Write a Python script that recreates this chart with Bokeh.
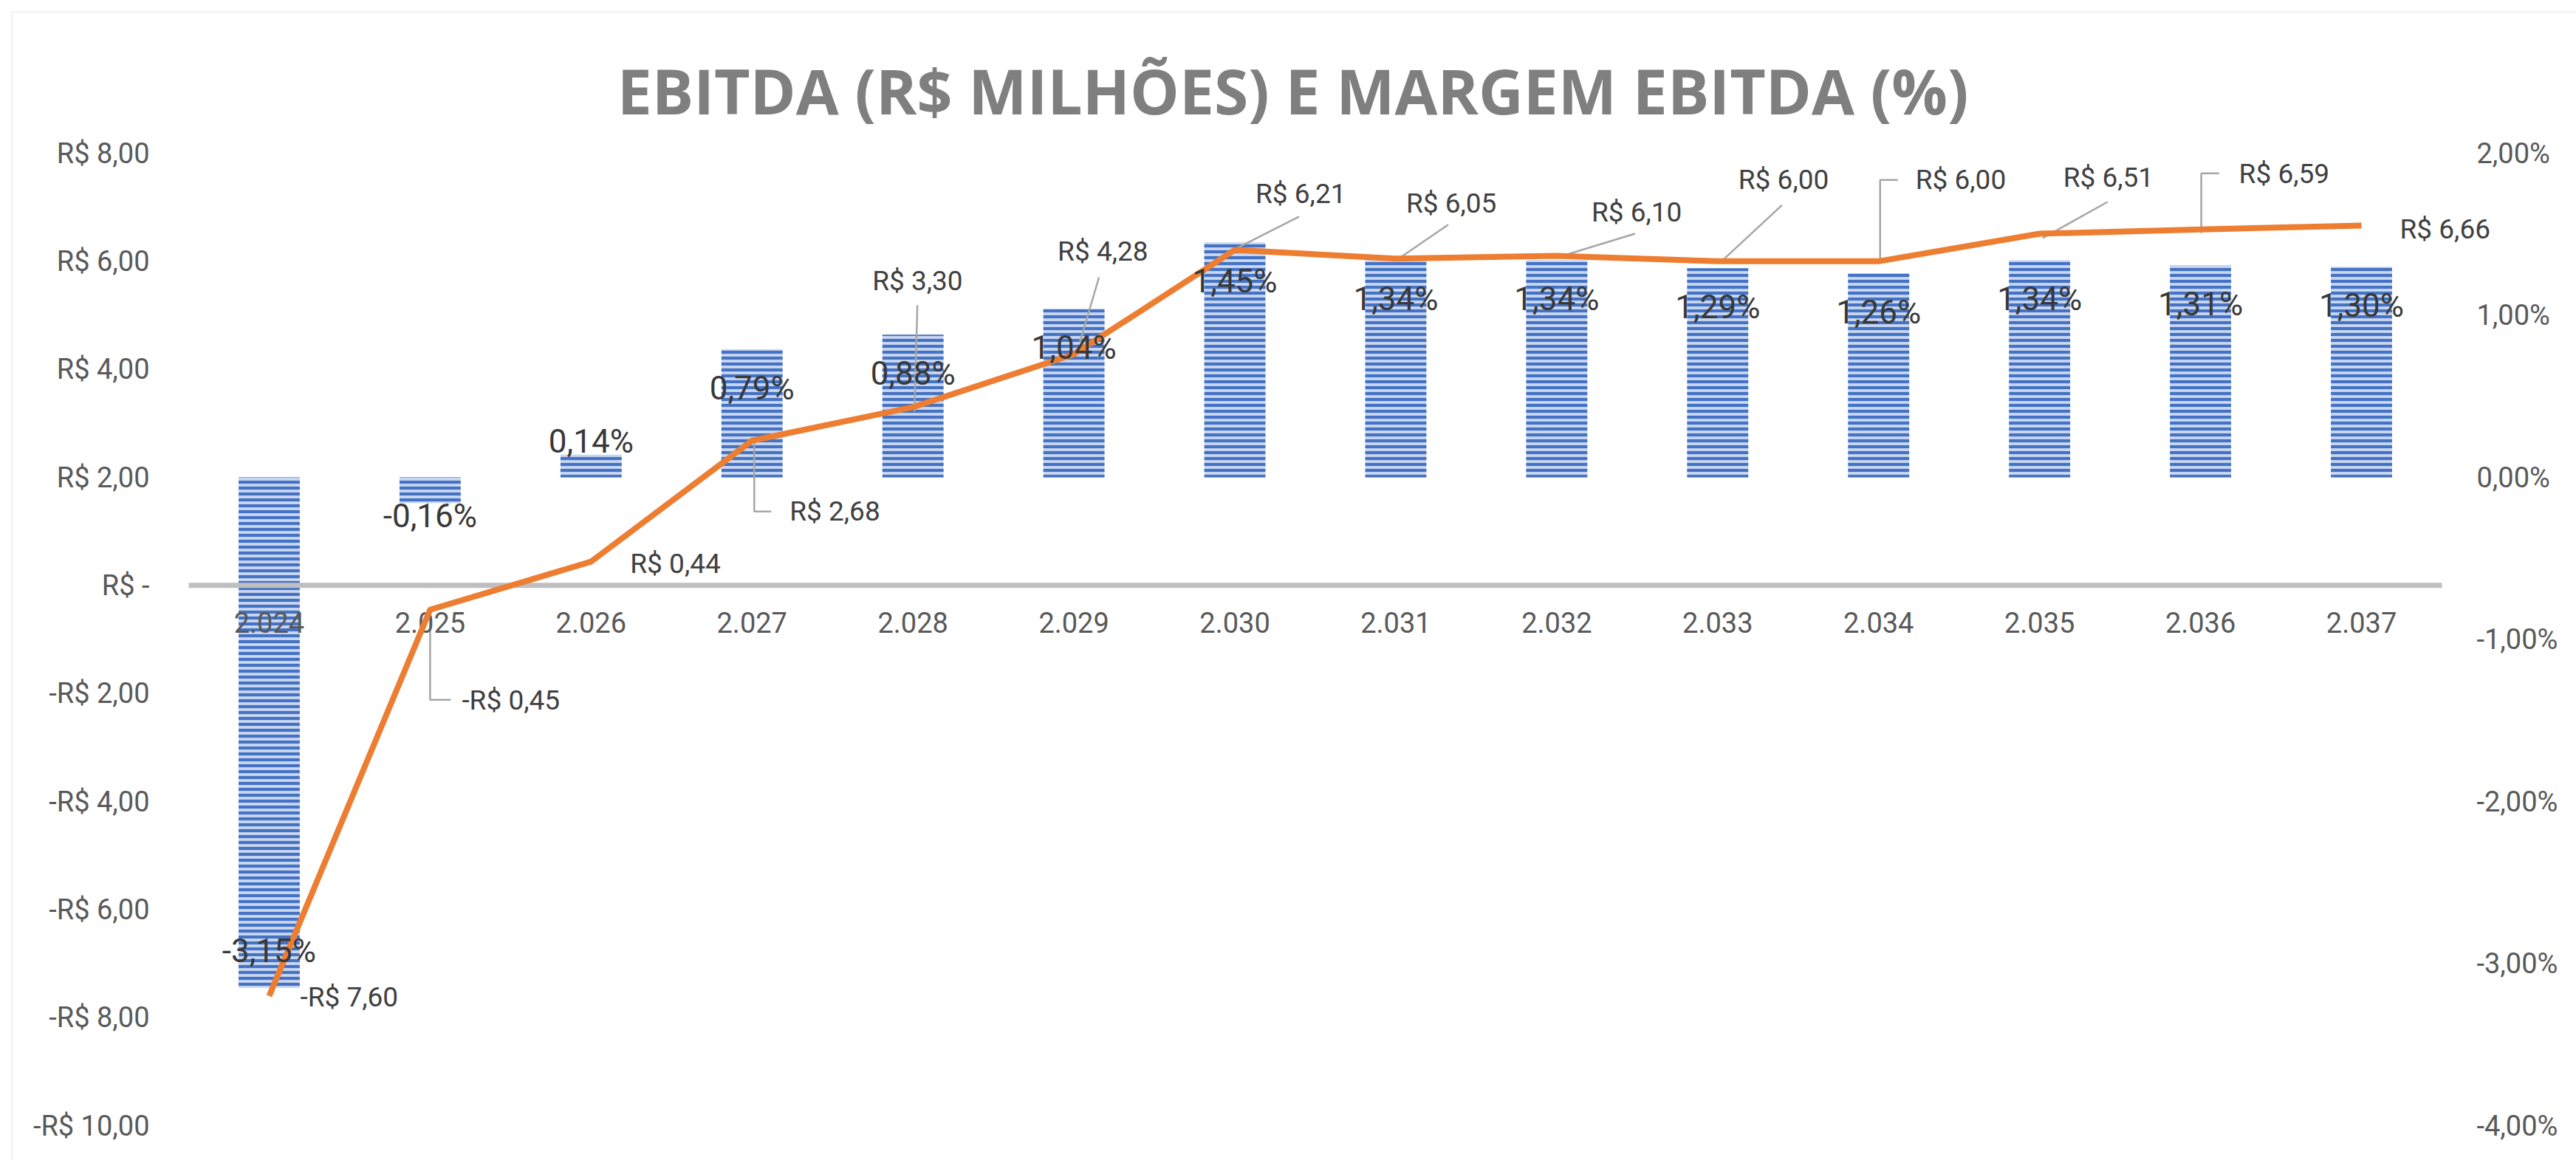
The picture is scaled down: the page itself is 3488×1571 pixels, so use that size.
from bokeh.plotting import figure
from bokeh.models import (Range1d, LinearAxis, FixedTicker, ColumnDataSource,
                          LabelSet, Label, BoxAnnotation)
from bokeh.embed import file_html
from bokeh.resources import INLINE
from bokeh.core.properties import value

# ---------------- data ----------------
years = ["2.024", "2.025", "2.026", "2.027", "2.028", "2.029", "2.030",
         "2.031", "2.032", "2.033", "2.034", "2.035", "2.036", "2.037"]
ebitda = [-7.60, -0.45, 0.44, 2.68, 3.30, 4.28, 6.21, 6.05, 6.10, 6.00,
          6.00, 6.51, 6.59, 6.66]
margem = [-3.15, -0.16, 0.14, 0.79, 0.88, 1.04, 1.45, 1.34, 1.34, 1.29,
          1.26, 1.34, 1.31, 1.30]
left_ticks = [-10, -8, -6, -4, -2, 0, 2, 4, 6, 8]
left_tick_labels = ["-R$ 10,00", "-R$ 8,00", "-R$ 6,00", "-R$ 4,00",
                    "-R$ 2,00", "R$ -", "R$ 2,00", "R$ 4,00", "R$ 6,00",
                    "R$ 8,00"]
right_ticks = [-4, -3, -2, -1, 0, 1, 2]
right_tick_labels = ["-4,00%", "-3,00%", "-2,00%", "-1,00%", "0,00%",
                     "1,00%", "2,00%"]
title_text = "EBITDA (R$ MILHÕES) E MARGEM EBITDA (%)"

# ---------------- layout ----------------
# the drawing canvas is one frame; the plot area inside it spans
# BL..W-BR horizontally and BT..H-BB vertically
W, H = 3488, 1571
BL, BR, BT, BB = 255, 182, 207, 47
AREA_W = W - BL - BR
AREA_H = H - BT - BB
X_LEFT, X_RIGHT = -0.5, len(years) - 0.5
Y_TOP, Y_BOT = left_ticks[-1], left_ticks[0]
P_TOP, P_BOT = right_ticks[-1], right_ticks[0]
PX_X = AREA_W / (X_RIGHT - X_LEFT)
PX_Y = AREA_H / (Y_TOP - Y_BOT)
PX_P = AREA_H / (P_TOP - P_BOT)


def to_x(px):
    return X_LEFT + (px - BL) / PX_X


def to_y(py):
    return Y_TOP - (py - BT) / PX_Y


FONT = "Roboto"
AX_COLOR = "#595959"
LBL_COLOR = "#404040"


def fmt_money(v):
    s = f"{abs(v):.2f}".replace(".", ",")
    return ("-R$ " if v < 0 else "R$ ") + s


def fmt_pct(v):
    return f"{v:.2f}".replace(".", ",") + "%"


xs = list(range(len(years)))

p = figure(width=W, height=H, output_backend="svg", toolbar_location=None,
           x_range=Range1d(to_x(0), to_x(W)),
           y_range=Range1d(to_y(H), to_y(0)),
           min_border_left=0, min_border_right=0,
           min_border_top=0, min_border_bottom=0)
p.extra_y_ranges = {"pct": Range1d(P_BOT - BB / PX_P, P_TOP + BT / PX_P)}
p.background_fill_color = "white"
p.border_fill_color = "white"
p.outline_line_color = None
p.xgrid.visible = False
p.ygrid.visible = False

# chart border (left and top edges visible in the picture)
p.add_layout(BoxAnnotation(
    left=to_x(15.5), right=to_x(W + 30), top=to_y(15.5), bottom=to_y(H + 30),
    fill_alpha=0, line_color="#d9d9d9", line_width=3, level="overlay"))

# bars (margin, right axis)
bar_src = ColumnDataSource(dict(x=xs, m=margem,
                                lbl=[fmt_pct(v) for v in margem],
                                dy=[50, -17, 18] + [-53] * (len(margem) - 3)))
p.vbar(x="x", top="m", bottom=0, width=0.38, source=bar_src,
       y_range_name="pct", fill_color="#cad7ef", line_color=None,
       hatch_pattern="horizontal_line", hatch_color="#4472C4",
       hatch_scale=8, hatch_weight=4.2)

# horizontal axis line at zero (across the category band)
p.segment(x0=[X_LEFT], x1=[X_RIGHT], y0=[0], y1=[0], line_color="#bfbfbf",
          line_width=7)

# x axis crossing at zero (labels only)
xa = p.xaxis[0]
xa.fixed_location = 0
xa.ticker = FixedTicker(ticks=xs)
xa.major_label_overrides = {i: years[i] for i in xs}
xa.axis_line_color = None
xa.major_tick_line_color = None
xa.minor_tick_line_color = None
xa.major_label_standoff = 30
xa.major_label_text_font = FONT
xa.major_label_text_font_size = "38px"
xa.major_label_text_color = AX_COLOR

# left axis
ya = p.yaxis[0]
ya.fixed_location = X_LEFT
ya.ticker = FixedTicker(ticks=left_ticks)
ya.major_label_overrides = dict(zip(left_ticks, left_tick_labels))
ya.axis_line_color = None
ya.major_tick_line_color = None
ya.minor_tick_line_color = None
ya.major_label_standoff = 47
ya.major_label_text_font = FONT
ya.major_label_text_font_size = "38px"
ya.major_label_text_color = AX_COLOR

# right axis
ra = LinearAxis(y_range_name="pct", ticker=FixedTicker(ticks=right_ticks),
                major_label_overrides=dict(zip(right_ticks, right_tick_labels)),
                axis_line_color=None, major_tick_line_color=None,
                minor_tick_line_color=None, major_label_standoff=41,
                major_label_text_font=FONT, major_label_text_font_size="38px",
                major_label_text_color=AX_COLOR, fixed_location=X_RIGHT)
p.add_layout(ra, "right")

# leader lines (pixel offsets relative to each point, down positive)
leaders = {
    1: [(0, 0), (0, 122), (28, 122)],
    3: [(3, 0), (3, 96), (26, 96)],
    4: [(2, 6), (6, -138)],
    5: [(8, -16), (34, -104)],
    6: [(4, -3), (87, -45)],
    7: [(1, 2), (71, -46)],
    8: [(1, 2), (106, -30)],
    9: [(3, 2), (87, -76)],
    10: [(2, 2), (2, -110), (26, -110)],
    11: [(4, 6), (92, -43)],
    12: [(1, 5), (1, -76), (25, -76)],
}
lx, ly = [], []
for i, pts in leaders.items():
    lx.append([i + dx / PX_X for dx, dy in pts])
    ly.append([ebitda[i] - dy / PX_Y for dx, dy in pts])
p.multi_line(xs=lx, ys=ly, line_color="#a6a6a6", line_width=2.5)

# EBITDA line
line_src = ColumnDataSource(dict(x=xs, v=ebitda))
p.line(x="x", y="v", source=line_src, line_color="#ED7D31", line_width=8,
       line_join="round", level="annotation")

# line value labels (label left edge / centre offsets in px, up positive)
lab_dx = [42, 43, 53, 51, -55, -22, 28, 14, 47, 28, 50, 32, 52, 52]
lab_dy = [-2, -123, -3, -96, 171, 139, 76, 75, 59, 110, 110, 76, 75, -5]
for i, v in enumerate(ebitda):
    p.add_layout(Label(x=i, y=v, text=fmt_money(v), x_offset=lab_dx[i],
                       y_offset=lab_dy[i], text_align="left",
                       text_baseline="middle", text_font=FONT,
                       text_font_size="37px", text_color=LBL_COLOR,
                       level="overlay"))

# bar value labels
p.add_layout(LabelSet(x="x", y="m", text="lbl", source=bar_src,
                      y_range_name="pct", y_offset="dy", text_align="center",
                      text_baseline="middle", text_font=value(FONT),
                      text_font_size=value("44px"), text_color="#383838",
                      level="overlay"))

# title
p.add_layout(Label(x=to_x(1750), y=to_y(122),
                   text=title_text, text_align="center",
                   text_baseline="alphabetic", text_font="Open Sans",
                   text_font_style="bold", text_font_size="84px",
                   text_color="#7f7f7f", level="overlay"))

open("out.html", "w").write(file_html(p, INLINE))
